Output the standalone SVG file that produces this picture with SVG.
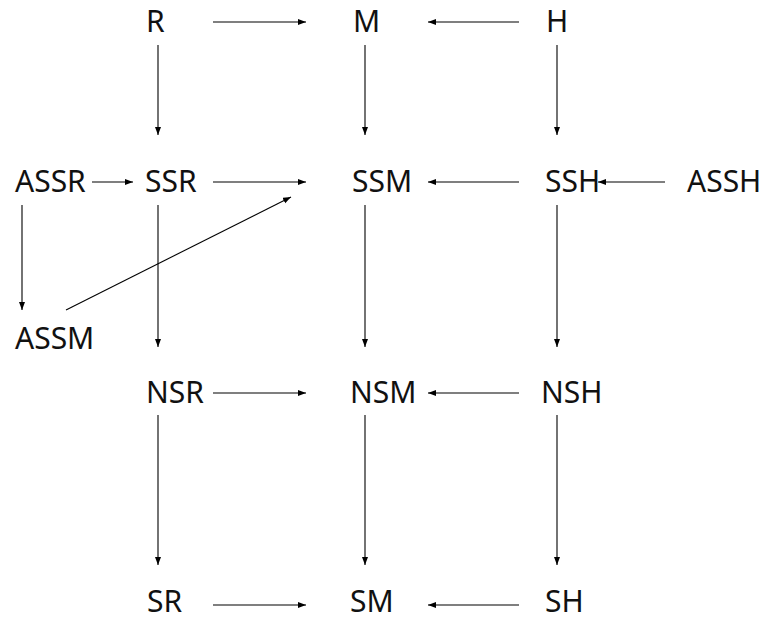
<svg xmlns="http://www.w3.org/2000/svg" width="762" height="621" viewBox="0 0 762 621">
<defs>
<marker id="ah" markerUnits="userSpaceOnUse" markerWidth="9" markerHeight="7" refX="8" refY="3" orient="auto">
<path d="M0,0 L8,3 L0,6 z" fill="#000"/>
</marker>
<style>
text{font-family:"Noto Sans","Open Sans","DejaVu Sans",sans-serif;font-size:30px;fill:#111}
.e{stroke:#000;stroke-width:1.1;fill:none;marker-end:url(#ah)}
</style>
</defs>
<rect width="762" height="621" fill="#fff"/>
<g id="connectors">
<line class="e" x1="213" y1="22" x2="306" y2="22"/>
<line class="e" x1="519" y1="22" x2="428" y2="22"/>
<line class="e" x1="158" y1="45" x2="158" y2="135"/>
<line class="e" x1="365" y1="45" x2="365" y2="135"/>
<line class="e" x1="557" y1="45" x2="557" y2="135"/>
<line class="e" x1="92" y1="182" x2="133" y2="182"/>
<line class="e" x1="213" y1="182" x2="306" y2="182"/>
<line class="e" x1="519" y1="182" x2="428" y2="182"/>
<line class="e" x1="665" y1="182" x2="598" y2="182"/>
<line class="e" x1="22" y1="205" x2="22" y2="310"/>
<line class="e" x1="158" y1="205" x2="158" y2="347"/>
<line class="e" x1="365" y1="205" x2="365" y2="347"/>
<line class="e" x1="557" y1="205" x2="557" y2="347"/>
<line class="e" x1="66" y1="310" x2="291" y2="197"/>
<line class="e" x1="213" y1="393" x2="306" y2="393"/>
<line class="e" x1="519" y1="393" x2="428" y2="393"/>
<line class="e" x1="158" y1="415" x2="158" y2="565"/>
<line class="e" x1="365" y1="415" x2="365" y2="565"/>
<line class="e" x1="557" y1="415" x2="557" y2="565"/>
<line class="e" x1="213" y1="605" x2="306" y2="605"/>
<line class="e" x1="519" y1="605" x2="428" y2="605"/>
</g>
<g id="R"><text x="146" y="32">R</text></g>
<g id="M"><text x="353" y="32">M</text></g>
<g id="H"><text x="546" y="32">H</text></g>
<g id="ASSR"><text x="15" y="192">ASSR</text></g>
<g id="SSR"><text x="145" y="192">SSR</text></g>
<g id="SSM"><text x="352" y="192">SSM</text></g>
<g id="SSH"><text x="545" y="192">SSH</text></g>
<g id="ASSH"><text x="687" y="192">ASSH</text></g>
<g id="ASSM"><text x="15" y="349">ASSM</text></g>
<g id="NSR"><text x="146" y="403">NSR</text></g>
<g id="NSM"><text x="350" y="403">NSM</text></g>
<g id="NSH"><text x="541" y="403">NSH</text></g>
<g id="SR"><text x="147" y="612">SR</text></g>
<g id="SM"><text x="350" y="612">SM</text></g>
<g id="SH"><text x="545" y="612">SH</text></g>
</svg>
